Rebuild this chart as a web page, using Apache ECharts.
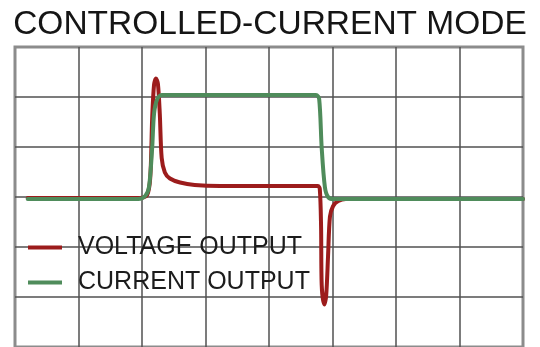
<!DOCTYPE html>
<html>
<head>
<meta charset="utf-8">
<script src="https://cdn.jsdelivr.net/npm/echarts@6/dist/echarts.min.js"></script>
<style>
  html, body { margin: 0; padding: 0; background: #fff; }
  #chart { width: 540px; height: 347px; }
</style>
</head>
<body>
<div id="chart"></div>
<script>
// Time in horizontal divisions, level in vertical divisions (0 = baseline)
const voltageT = [0.2, 1.97, 2.08, 2.13, 2.16, 2.19, 2.22, 2.25, 2.28, 2.31, 2.36, 2.44, 2.6, 2.83, 3.23, 4.77, 4.8, 4.82, 4.83, 4.87, 4.9, 4.93, 4.96, 5.01, 5.09, 5.21, 8.0];
const voltageV = [-0.02, -0.02, 0.04, 0.39, 1.57, 2.25, 2.37, 2.27, 1.67, 0.78, 0.49, 0.37, 0.29, 0.24, 0.22, 0.22, 0.16, -0.59, -1.76, -2.15, -1.98, -1.18, -0.39, -0.18, -0.08, -0.04, -0.04];

const currentT = [0.2, 1.94, 2.05, 2.11, 2.16, 2.19, 2.24, 2.31, 4.74, 4.79, 4.83, 4.88, 4.93, 5.01, 8.0];
const currentV = [-0.04, -0.04, 0.02, 0.2, 0.98, 1.67, 1.96, 2.04, 2.04, 1.96, 0.98, 0.2, 0.0, -0.04, -0.04];

const seriesNames = ['VOLTAGE OUTPUT', 'CURRENT OUTPUT'];
const titleText = 'CONTROLLED-CURRENT MODE';

const zip = (xs, ys) => xs.map((x, i) => [x, ys[i]]);

const chart = echarts.init(document.getElementById('chart'), null, { renderer: 'canvas' });
const font = "'Liberation Sans', Arial, sans-serif";

chart.setOption({
  animation: false,
  backgroundColor: '#ffffff',
  title: {
    text: titleText,
    left: 'center',
    top: 3,
    textStyle: { fontFamily: font, fontSize: 33.5, fontWeight: 'normal', color: '#151515' }
  },
  legend: {
    orient: 'vertical',
    left: 23,
    top: 230,
    icon: 'rect',
    itemWidth: 34,
    itemHeight: 4,
    itemGap: 10,
    data: seriesNames,
    textStyle: { fontFamily: font, fontSize: 25, color: '#1c1c1c', lineHeight: 25, padding: [0, 0, 0, 11] }
  },
  grid: {
    left: 15, top: 47, width: 508, height: 306,
    show: true, borderColor: '#8c8c8c', borderWidth: 3
  },
  xAxis: {
    type: 'value', min: 0, max: 8, interval: 1,
    axisLine: { show: false }, axisTick: { show: false }, axisLabel: { show: false },
    splitLine: { show: true, showMinLine: false, showMaxLine: false, lineStyle: { color: '#505050', width: 1.5 } }
  },
  yAxis: {
    type: 'value', min: -3, max: 3, interval: 1,
    axisLine: { show: false }, axisTick: { show: false }, axisLabel: { show: false },
    splitLine: { show: true, showMinLine: false, showMaxLine: false, lineStyle: { color: '#505050', width: 1.5 } }
  },
  series: [
    {
      name: seriesNames[0], type: 'line', data: zip(voltageT, voltageV),
      showSymbol: false, smooth: 0.3,
      color: '#9c1c1c',
      lineStyle: { width: 4, color: '#9c1c1c', cap: 'round', join: 'round' }
    },
    {
      name: seriesNames[1], type: 'line', data: zip(currentT, currentV),
      showSymbol: false, smooth: 0.3,
      color: '#4f8c5b',
      lineStyle: { width: 4, color: '#4f8c5b', cap: 'round', join: 'round' }
    }
  ]
});
</script>
</body>
</html>
